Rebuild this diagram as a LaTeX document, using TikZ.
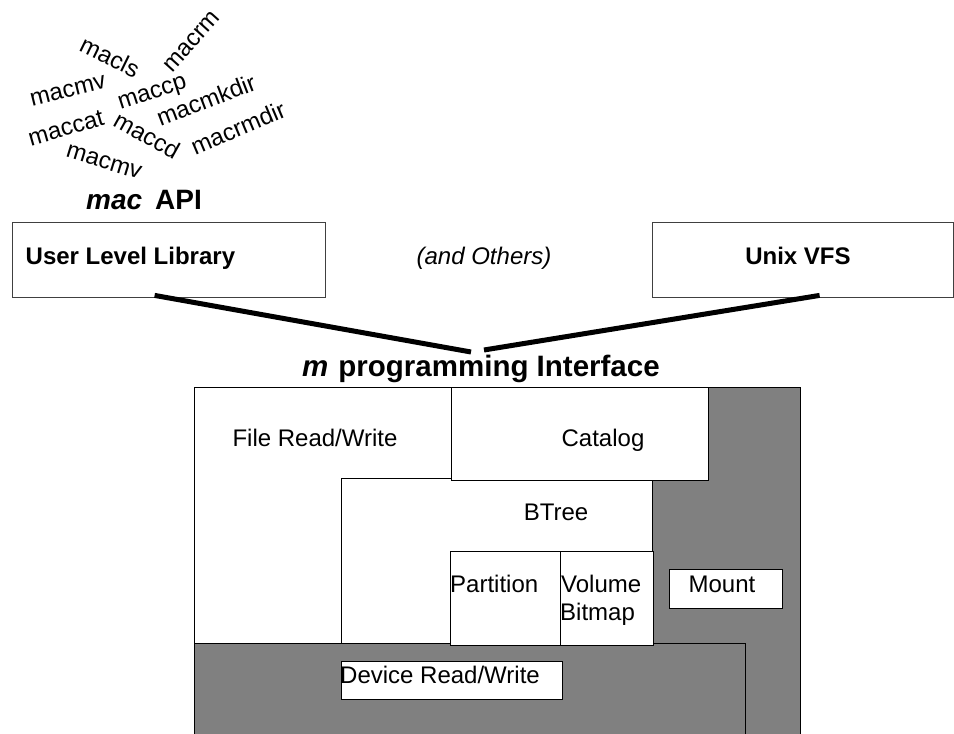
\documentclass[tikz,border=0pt]{standalone}
\usepackage{fontspec}
\setmainfont{Liberation Sans}
\usetikzlibrary{calc}
\definecolor{panelgrey}{HTML}{808080}
\begin{document}
\begin{tikzpicture}[x=1pt,y=-1pt,
  lbl/.style={inner sep=0pt, font=\fontsize{24}{30}\selectfont},
  blbl/.style={inner sep=0pt, font=\fontsize{24}{30}\selectfont\bfseries},
  cmdw/.style={inner sep=0pt, font=\fontsize{24}{28}\selectfont},
  boxw/.style={draw=black, line width=0.8pt, fill=white},
  boxg/.style={draw=black, line width=0.8pt, fill=panelgrey},
  topbox/.style={draw=black!75, line width=0.8pt, fill=white, inner sep=0pt, minimum height=75pt},
  link/.style={line width=5pt}
]
\useasboundingbox (0,0) rectangle (954,734);
\clip (0,0) rectangle (954,734);

% command words
\node[cmdw, rotate=-26] (w1) at (110,57) {macls};
\node[cmdw, rotate=48]  (w2) at (192,42) {macrm};
\node[cmdw, rotate=14]  (w3) at (68,91) {macmv};
\node[cmdw, rotate=18]  (w4) at (153,95) {maccp};
\node[cmdw, rotate=21]  (w5) at (206,100) {macmkdir};
\node[cmdw, rotate=16]  (w6) at (66,128) {maccat};
\node[cmdw, rotate=-29] (w7) at (147,135) {maccd};
\node[cmdw, rotate=23]  (w8) at (238,128) {macrmdir};
\node[cmdw, rotate=-17] (w9) at (104,162) {macmv};

\node[inner sep=0pt, anchor=base west, font=\fontsize{28}{32}\selectfont\bfseries] (api) at (86,209) {\textit{mac}\hspace{13pt}API};

% top boxes
\node[topbox, minimum width=313pt] (ull) at (168.5,259.5) {};
\node[blbl, anchor=base west] (ulltxt) at (25.5,264) {User Level Library};
\node[topbox, minimum width=301pt] (vfs) at (802.5,259.5) {};
\node[blbl, anchor=base] (vfstxt) at (798,264) {Unix VFS};
\node[lbl, anchor=base, font=\fontsize{24}{30}\selectfont\itshape] (others) at (484,264) {(and Others)};

% interface title
\node[inner sep=0pt, anchor=base west, font=\fontsize{29.5}{34}\selectfont\bfseries] (mpi) at (302,376) {\textit{m}\hspace{10pt}programming Interface};
\coordinate (apiL) at (471,352);
\coordinate (apiR) at (484,350);
\draw[link] ([xshift=143pt,yshift=2pt]ull.south west) -- (apiL);
\draw[link] ([xshift=168pt,yshift=2pt]vfs.south west) -- (apiR);

% layered blocks
\draw[boxg] (194,387) rectangle (800,745);
\draw[boxw] (194,387) rectangle (451,643);
\draw[boxw] (341,478) rectangle (652,643);
\draw[boxw] (451,387) rectangle (708,480);
\draw[boxg] (194,643) rectangle (745,745);
\draw[boxw] (341,661) rectangle (562,699);
\draw[boxw] (450,551) rectangle (560,645);
\draw[boxw] (560,551) rectangle (653,645);
\draw[boxw] (669,569) rectangle (782,608);

\node[lbl, anchor=base] (frw) at (315,446) {File Read/Write};
\node[lbl, anchor=base] (cat) at (603,446) {Catalog};
\node[lbl, anchor=base] (btree) at (556,520) {BTree};
\node[lbl, anchor=base west] (part) at (450,592) {Partition};
\node[lbl, anchor=base west] (vol) at (561,592) {Volume};
\node[lbl, anchor=base west] (bmp) at (560,620) {Bitmap};
\node[lbl, anchor=base] (mount) at (722,592) {Mount};
\node[lbl, anchor=base west] (dev) at (340,683) {Device Read/Write};
\end{tikzpicture}
\end{document}
